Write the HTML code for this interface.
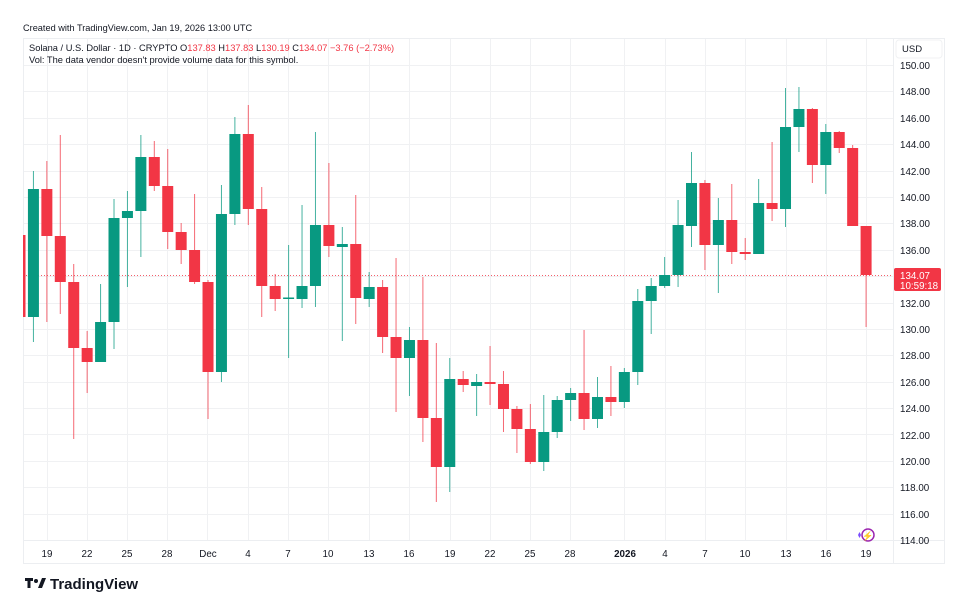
<!DOCTYPE html>
<html><head><meta charset="utf-8"><style>
html,body{margin:0;padding:0;background:#fff;width:975px;height:597px;overflow:hidden}
svg{display:block;font-family:"Liberation Sans",sans-serif}
</style></head><body>
<svg id="s" width="975" height="597" viewBox="0 0 975 597" xmlns="http://www.w3.org/2000/svg">
<defs><clipPath id="cp"><rect x="23" y="38" width="870" height="502"/></clipPath></defs>
<rect width="975" height="597" fill="#fff"/>
<g id="grid" stroke="#f0f1f3" stroke-width="1"></g>
<rect x="23.5" y="38.5" width="921" height="525" fill="none" stroke="#eceef1"/>
<line x1="23" y1="540.5" x2="945" y2="540.5" stroke="#eceef1"/>
<line x1="893.5" y1="38" x2="893.5" y2="563" stroke="#eceef1"/>
<line x1="23" y1="275.5" x2="893" y2="275.5" stroke="#f23645" stroke-width="1" stroke-dasharray="1,2" opacity="0.8"/>
<g id="c" clip-path="url(#cp)"></g>
<text x="23" y="31" font-size="9.2" fill="#131722">Created with TradingView.com, Jan 19, 2026 13:00 UTC</text>
<text x="29" y="51" font-size="9.3" fill="#131722">Solana / U.S. Dollar · 1D · CRYPTO <tspan>O</tspan><tspan fill="#f23645">137.83</tspan> H<tspan fill="#f23645">137.83</tspan> L<tspan fill="#f23645">130.19</tspan> C<tspan fill="#f23645">134.07 −3.76 (−2.73%)</tspan></text>
<text x="29" y="63" font-size="9.3" fill="#131722">Vol: The data vendor doesn't provide volume data for this symbol.</text>
<rect x="896" y="40" width="46" height="18" rx="3" fill="#fff" stroke="#f0f1f3"/>
<text x="902" y="52" font-size="9.5" fill="#131722">USD</text>
<g font-size="9.8" fill="#131722">
<text x="900" y="69">150.00</text><text x="900" y="95">148.00</text><text x="900" y="122">146.00</text><text x="900" y="148">144.00</text><text x="900" y="175">142.00</text><text x="900" y="201">140.00</text><text x="900" y="227">138.00</text><text x="900" y="254">136.00</text><text x="900" y="307">132.00</text><text x="900" y="333">130.00</text><text x="900" y="359">128.00</text><text x="900" y="386">126.00</text><text x="900" y="412">124.00</text><text x="900" y="439">122.00</text><text x="900" y="465">120.00</text><text x="900" y="491">118.00</text><text x="900" y="518">116.00</text><text x="900" y="544">114.00</text>
</g>
<rect x="894" y="268" width="47" height="23" rx="2" fill="#f23645"/>
<text x="900" y="279" font-size="9.8" fill="#fff">134.07</text>
<text x="900" y="289" font-size="9.8" fill="#fff">10:59:18</text>
<g font-size="9.8" fill="#131722" text-anchor="middle">
<text x="47" y="557">19</text><text x="87" y="557">22</text><text x="127" y="557">25</text><text x="167" y="557">28</text><text x="208" y="557">Dec</text><text x="248" y="557">4</text><text x="288" y="557">7</text><text x="328" y="557">10</text><text x="369" y="557">13</text><text x="409" y="557">16</text><text x="450" y="557">19</text><text x="490" y="557">22</text><text x="530" y="557">25</text><text x="570" y="557">28</text><text x="625" y="557" font-weight="bold">2026</text><text x="665" y="557">4</text><text x="705" y="557">7</text><text x="745" y="557">10</text><text x="786" y="557">13</text><text x="826" y="557">16</text><text x="866" y="557">19</text>
</g>
<circle cx="868" cy="535" r="6" fill="none" stroke="#9c27b0" stroke-width="1.5"/>
<text x="868" y="539" font-size="9" fill="#9c27b0" text-anchor="middle">⚡</text>
<path d="M858 535 l1.5 -3 l1.5 3 l-1.5 3z" fill="#7b4dff"/>
<g fill="#131722">
<rect x="25" y="578" width="8" height="3"/><rect x="27.5" y="578" width="3" height="10"/>
<circle cx="36" cy="581" r="2"/><path d="M38 588 l4 -10 h4 l-4 10z"/>
</g>
<text x="50" y="589" font-size="15" font-weight="bold" fill="#131722">TradingView</text>
</svg>
<script>
var G="#089981",R="#f23645";
var d=[[0,228,235,317,330,R],[1,171,189,317,342,G],[2,161,189,236,322,R],[3,135,236,282,314,R],[4,264,282,348,439,R],[5,331,348,362,393,R],[6,284,322,362,362,G],[7,199,218,322,349,G],[8,191,211,218,287,G],[9,135,157,211,257,G],[10,141,157,186,191,R],[11,149,186,232,249,R],[12,223,232,250,264,R],[13,194,250,282,284,R],[14,280,282,372,419,R],[15,185,214,372,382,G],[16,117,134,214,225,G],[17,105,134,209,225,R],[18,187,209,286,317,R],[19,274,286,299,311,R],[20,245,297.5,299,358,G],[21,205,286,299,308,G],[22,132,225,286,307,G],[23,163,225,246,257,R],[24,227,244,247,341,G],[25,195,244,298,324,R],[26,272,287,299,307,G],[27,280,287,337,353,R],[28,258,337,358,412,R],[29,327,340,358,396,G],[30,277,340,418,442,R],[31,343,418,467,502,R],[32,358,379,467,492,G],[33,371,379,385,392,R],[34,374,382,386,416,G],[35,346,382,384,405,R],[36,371,384,409,432,R],[37,406,409,429,453,R],[38,404,429,462,464,R],[39,395,432,462,471,G],[40,396,400,432,438,G],[41,388,393,400,421,G],[42,330,393,419,430,R],[43,377,397,419,428,G],[44,366,397,402,416,R],[45,368,372,402,408,G],[46,289,301,372,385,G],[47,278,286,301,334,G],[48,257,275,286,288,G],[49,200,225,275,287,G],[50,152,183,226,247,G],[51,180,183,245,270,R],[52,198,220,245,293,G],[53,184,220,252,264,R],[54,238,252,254,260,R],[55,179,203,254,254,G],[56,142,203,209,221,R],[57,88,127,209,227,G],[58,87,109,127,152,G],[59,108,109,165,183,R],[60,124,132,165,194,G],[61,131,132,148,153,R],[62,145,148,226,226,R],[63,226,226,275,327,R]];
var ns="http://www.w3.org/2000/svg",c=document.getElementById("c"),g=document.getElementById("grid");
function el(t,a,p){var e=document.createElementNS(ns,t);for(var k in a)e.setAttribute(k,a[k]);p.appendChild(e);}
for(var k=0;k<=17;k++){var y=65+26.39*k;y=Math.round(y)+0.5;el("line",{x1:23,x2:893,y1:y,y2:y},g);}
[47,87,127,167,207,248,288,328,369,409,450,490,530,570,624,665,705,745,786,826,866].forEach(function(x){el("line",{x1:x+0.5,x2:x+0.5,y1:38,y2:540},g);});
d.forEach(function(a){var x=20+13.43*a[0];var bw=11;
el("line",{x1:x,x2:x,y1:a[1],y2:a[4],stroke:a[5],"stroke-width":1,opacity:0.75},c);
el("rect",{x:x-bw/2,y:a[2],width:bw,height:Math.max(a[3]-a[2],1.5),fill:a[5]},c);});
</script>
</body></html>
